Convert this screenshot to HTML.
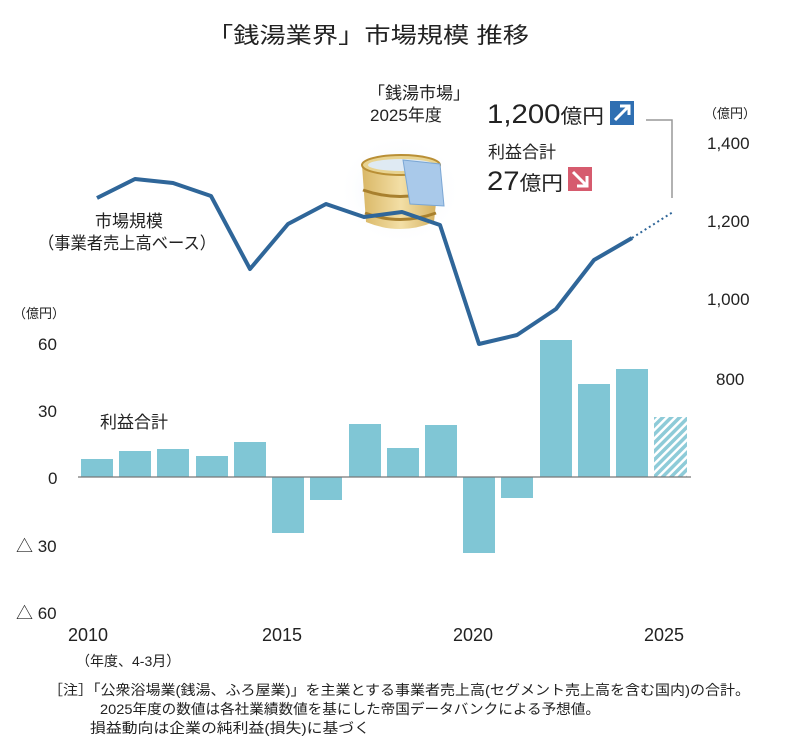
<!DOCTYPE html>
<html><head><meta charset="utf-8"><style>
html,body{margin:0;padding:0;background:#fff;}
svg{display:block;font-family:"Liberation Sans","Noto Sans CJK JP",sans-serif;}
</style></head><body>
<svg width="790" height="746" viewBox="0 0 790 746" xmlns="http://www.w3.org/2000/svg">
<defs>
<pattern id="h" width="6" height="6" patternUnits="userSpaceOnUse" patternTransform="rotate(45)">
<rect width="6" height="6" fill="#ffffff"/><rect width="3.5" height="6" fill="#8ecbd8"/>
</pattern>
<radialGradient id="glow" cx="0.5" cy="0.5" r="0.5"><stop offset="0" stop-color="#dfe9f4"/><stop offset="1" stop-color="#ffffff" stop-opacity="0"/></radialGradient>
<linearGradient id="wood" x1="0" x2="1"><stop offset="0" stop-color="#d9b766"/><stop offset="0.5" stop-color="#f3dfa6"/><stop offset="1" stop-color="#d2ad5a"/></linearGradient>
</defs>
<text x="368" y="43" font-size="22" text-anchor="middle" fill="#222" textLength="322" lengthAdjust="spacingAndGlyphs">「銭湯業界」市場規模 推移</text>

<!-- bucket -->
<ellipse cx="400" cy="190" rx="62" ry="55" fill="url(#glow)"/>
<path d="M362 165 L366 222 Q400 236 434 222 L440 165 Z" fill="url(#wood)"/>
<ellipse cx="401" cy="165" rx="39" ry="10" fill="#e8d390" stroke="#b98f35" stroke-width="2"/>
<ellipse cx="401" cy="165" rx="33" ry="6" fill="#dfeaf3"/>
<path d="M363 190 Q400 203 438 190" stroke="#a8802e" stroke-width="3" fill="none"/>
<path d="M365 213 Q400 226 436 213" stroke="#a8802e" stroke-width="3" fill="none"/>
<path d="M403 160 L440 164 L444 206 L410 204 Z" fill="#a9c9ea" stroke="#7aa6d4" stroke-width="1"/>

<!-- axis labels -->
<g font-size="17" fill="#222">
<text x="13" y="318" font-size="13">（億円）</text>
<text x="38" y="350">60</text>
<text x="38" y="417">30</text>
<text x="48" y="484">0</text>
<text x="16" y="552">△ 30</text>
<text x="16" y="619">△ 60</text>
<text x="68" y="641" font-size="18">2010</text>
<text x="262" y="641" font-size="18">2015</text>
<text x="453" y="641" font-size="18">2020</text>
<text x="644" y="641" font-size="18">2025</text>
<text x="704" y="118" font-size="13">（億円）</text>
<text x="707" y="149">1,400</text>
<text x="707" y="227">1,200</text>
<text x="707" y="305">1,000</text>
<text x="716" y="385">800</text>
</g>
<text x="76" y="666" font-size="14" fill="#222">（年度、4-3月）</text>
<g font-size="14" fill="#222">
<text x="48" y="695" textLength="702" lengthAdjust="spacingAndGlyphs">［注］「公衆浴場業(銭湯、ふろ屋業)」を主業とする事業者売上高(セグメント売上高を含む国内)の合計。</text>
<text x="100" y="714" textLength="500" lengthAdjust="spacingAndGlyphs">2025年度の数値は各社業績数値を基にした帝国データバンクによる予想値。</text>
<text x="90" y="733" textLength="280" lengthAdjust="spacingAndGlyphs">損益動向は企業の純利益(損失)に基づく</text>
</g>
<g font-size="17" fill="#222">
<text x="95" y="227">市場規模</text>
<text x="38" y="249" textLength="178" lengthAdjust="spacingAndGlyphs">（事業者売上高ベース）</text>
<text x="100" y="428">利益合計</text>
<text x="368" y="99">「銭湯市場」</text>
<text x="370" y="121">2025年度</text>
<text x="488" y="158">利益合計</text>
</g>
<text x="487" y="123" font-size="27" fill="#222" textLength="117" lengthAdjust="spacingAndGlyphs">1,200<tspan font-size="20">億円</tspan></text>
<text x="487" y="190" font-size="27" fill="#222" textLength="76" lengthAdjust="spacingAndGlyphs">27<tspan font-size="20">億円</tspan></text>
<rect x="610" y="101" width="24" height="24" fill="#2f6fb2"/>
<path d="M615 120 L628 107 M620 106 L629 106 L629 115" stroke="#fff" stroke-width="3" fill="none"/>
<rect x="568" y="167" width="24" height="24" fill="#d65b6e"/>
<path d="M573 172 L586 185 M577 186 L587 186 L587 176" stroke="#fff" stroke-width="3" fill="none"/>
<path d="M646 120 L672 120 L672 198" stroke="#999" stroke-width="1.5" fill="none"/>

<!-- bars -->
<g fill="#80c6d5">
<rect x="81" y="459" width="32" height="18"/>
<rect x="119" y="451" width="32" height="26"/>
<rect x="157" y="449" width="32" height="28"/>
<rect x="196" y="456" width="32" height="21"/>
<rect x="234" y="442" width="32" height="35"/>
<rect x="272" y="477" width="32" height="56"/>
<rect x="310" y="477" width="32" height="23"/>
<rect x="349" y="424" width="32" height="53"/>
<rect x="387" y="448" width="32" height="29"/>
<rect x="425" y="425" width="32" height="52"/>
<rect x="463" y="477" width="32" height="76"/>
<rect x="501" y="477" width="32" height="21"/>
<rect x="540" y="340" width="32" height="137"/>
<rect x="578" y="384" width="32" height="93"/>
<rect x="616" y="369" width="32" height="108"/>
</g>
<rect x="654" y="417" width="33" height="60" fill="url(#h)"/>
<line x1="78" y1="477" x2="691" y2="477" stroke="#777" stroke-width="1.2"/>

<!-- line -->
<polyline points="97,198 135,179 173,183 211,196 250,269 288,224 326,204 364,217 402,212 440,225 479,344 517,335 556,309 594,260 632,238" fill="none" stroke="#2f6699" stroke-width="4" stroke-linejoin="round"/>
<line x1="632" y1="238" x2="673" y2="212" stroke="#2f6699" stroke-width="2" stroke-dasharray="2,3"/>
</svg>
</body></html>
